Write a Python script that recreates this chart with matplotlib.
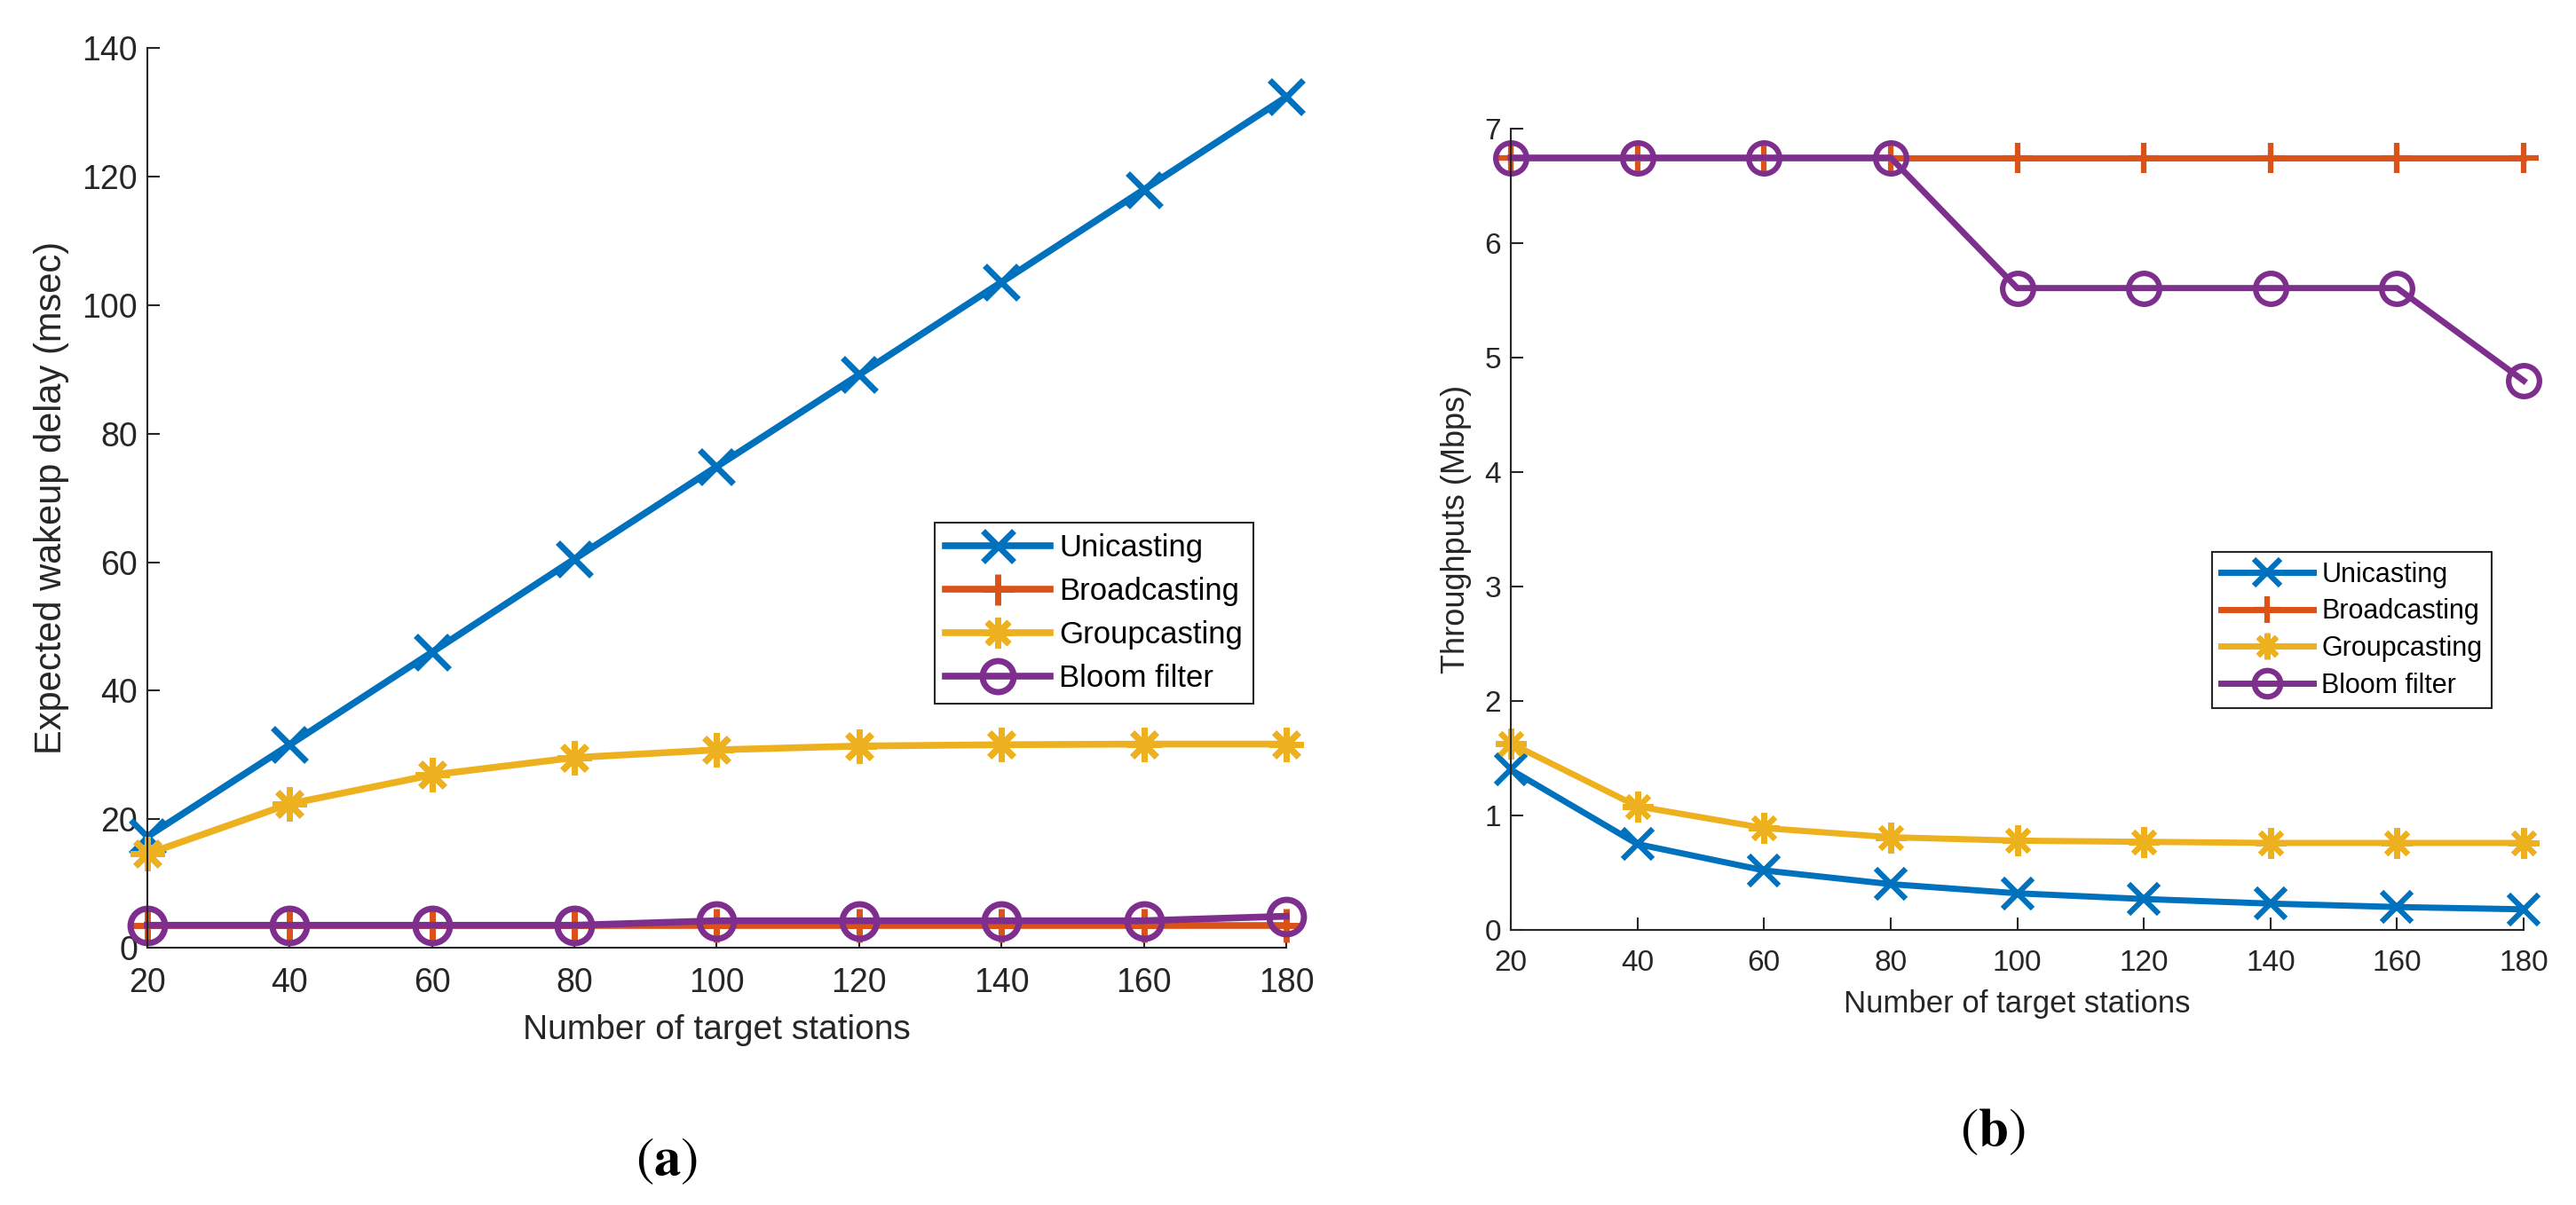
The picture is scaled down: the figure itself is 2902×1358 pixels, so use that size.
import numpy as np
import matplotlib
matplotlib.use('Agg')
import matplotlib.pyplot as plt

# data
stations = [20, 40, 60, 80, 100, 120, 140, 160, 180]
series_names = ['Unicasting', 'Broadcasting', 'Groupcasting', 'Bloom filter']

delay_uni = [17.3, 31.6, 46.0, 60.5, 74.9, 89.2, 103.6, 118.0, 132.4]
delay_broad = [3.5, 3.5, 3.5, 3.5, 3.5, 3.5, 3.5, 3.5, 3.5]
delay_group = [14.6, 22.4, 26.9, 29.6, 30.8, 31.4, 31.6, 31.7, 31.7]
delay_bloom = [3.5, 3.5, 3.5, 3.5, 4.2, 4.2, 4.2, 4.2, 4.9]

thr_uni = [1.40, 0.75, 0.52, 0.40, 0.32, 0.27, 0.23, 0.20, 0.18]
thr_broad = [6.75, 6.75, 6.75, 6.75, 6.75, 6.75, 6.75, 6.75, 6.75]
thr_group = [1.63, 1.08, 0.89, 0.81, 0.78, 0.77, 0.76, 0.76, 0.76]
thr_bloom = [6.75, 6.75, 6.75, 6.75, 5.61, 5.61, 5.61, 5.61, 4.80]

colors = ['#0072BD', '#D95319', '#EDB120', '#7E2F8E']
markers = ['x', '+', (8, 2, 0), 'o']

plt.rcParams['font.family'] = ['Liberation Sans', 'DejaVu Sans']
plt.rcParams['mathtext.fontset'] = 'stix'
axcol = '#262626'


def style_axes(ax, tsize):
    for s in ['top', 'right']:
        ax.spines[s].set_visible(False)
    for s in ['left', 'bottom']:
        ax.spines[s].set_color(axcol)
        ax.spines[s].set_linewidth(1.5)
    ax.tick_params(direction='in', length=10, width=1.5, colors=axcol,
                   labelsize=tsize, labelcolor=axcol)
    ax.tick_params(axis='x', pad=16)
    ax.tick_params(axis='y', pad=8)


fig = plt.figure(figsize=(29.02, 13.58), dpi=100)

# (a) wakeup delay
ax1 = fig.add_axes([0.0572, 0.2135, 0.4421, 0.7464])
sets1 = [delay_uni, delay_broad, delay_group, delay_bloom]
for vals, name, c, m in zip(sets1, series_names, colors, markers):
    ax1.plot(stations, vals, color=c, marker=m, lw=5.5, ms=28, mew=5,
             mfc='none' if m == 'o' else c, label=name, clip_on=False)
ax1.set_xlim(20, 180)
ax1.set_ylim(0, 140)
ax1.set_xticks(stations)
ax1.set_yticks(np.arange(0, 141, 20))
style_axes(ax1, 27)
ax1.set_xlabel('Number of target stations', fontsize=28, color=axcol, labelpad=12)
ax1.set_ylabel('Expected wakeup delay (msec)', fontsize=30, color=axcol, labelpad=10)
leg1 = ax1.legend(loc='upper left', bbox_to_anchor=(0.691, 0.4726), borderaxespad=0,
                  fontsize=25, handlelength=3.4, handletextpad=0.3, labelspacing=0.46,
                  borderpad=0.35, fancybox=False, framealpha=1, markerscale=0.9)
leg1.get_frame().set_edgecolor(axcol)
leg1.get_frame().set_linewidth(1.5)

# (b) throughput
ax2 = fig.add_axes([0.5865, 0.2283, 0.3932, 0.6646])
sets2 = [thr_uni, thr_broad, thr_group, thr_bloom]
for vals, name, c, m in zip(sets2, series_names, colors, markers):
    ax2.plot(stations, vals, color=c, marker=m, lw=5, ms=25, mew=4.5,
             mfc='none' if m == 'o' else c, label=name, clip_on=False)
ax2.set_xlim(20, 180)
ax2.set_ylim(0, 7)
ax2.set_xticks(stations)
ax2.set_yticks(np.arange(0, 8, 1))
style_axes(ax2, 24)
ax2.set_xlabel('Number of target stations', fontsize=25, color=axcol, labelpad=10)
ax2.set_ylabel('Throughputs (Mbps)', fontsize=26, color=axcol, labelpad=10)
leg2 = ax2.legend(loc='upper left', bbox_to_anchor=(0.692, 0.472), borderaxespad=0,
                  fontsize=22, handlelength=3.4, handletextpad=0.3, labelspacing=0.38,
                  borderpad=0.35, fancybox=False, framealpha=1, markerscale=0.85)
leg2.get_frame().set_edgecolor(axcol)
leg2.get_frame().set_linewidth(1.5)

fig.text(751 / 2902, 1 - 1309 / 1358, r'$(\mathbf{a})$', fontsize=44,
         ha='center', va='center')
fig.text(2245 / 2902, 1 - 1276 / 1358, r'$(\mathbf{b})$', fontsize=44,
         ha='center', va='center')

fig.savefig('out.png', dpi=100)
